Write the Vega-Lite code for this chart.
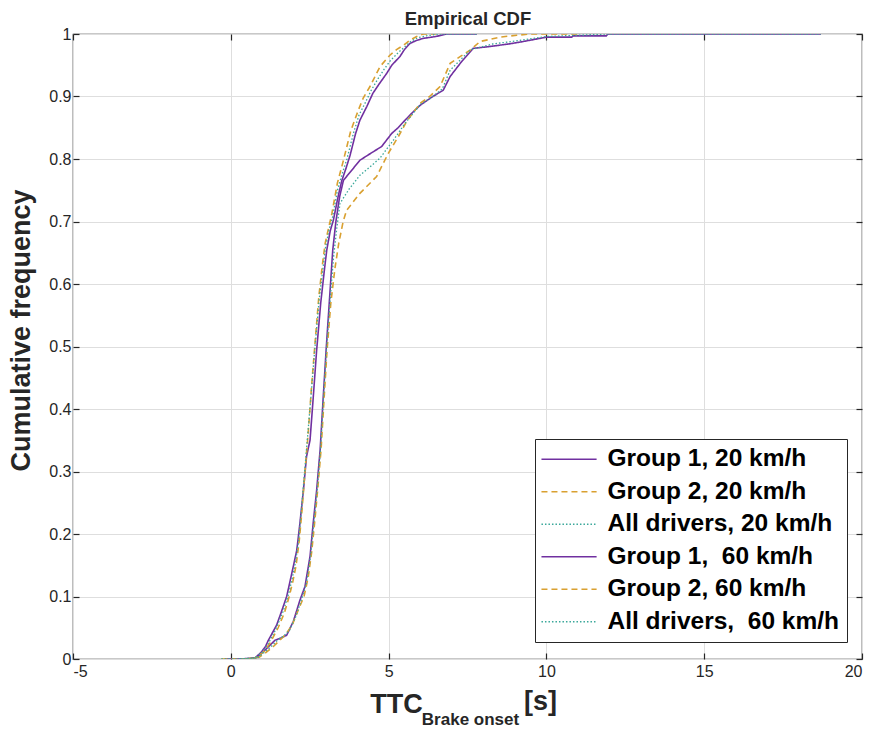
{
  "$schema": "https://vega.github.io/schema/vega-lite/v6.json",
  "autosize": {"type": "none"},
  "padding": {"left": 73, "top": 34, "right": 15, "bottom": 74},
  "width": 789,
  "height": 625,
  "background": "white",
  "config": {
    "view": {"stroke": "#262626", "strokeWidth": 1.2},
    "font": "Liberation Sans"
  },
  "datasets": {
    "cdf": [
      {"s": "Group 1, 20 km/h", "x": -0.2, "y": 0}, {"s": "Group 1, 20 km/h", "x": 0.6, "y": 0}, {"s": "Group 1, 20 km/h", "x": 0.77, "y": 0.002}, {"s": "Group 1, 20 km/h", "x": 0.95, "y": 0.01}, {"s": "Group 1, 20 km/h", "x": 1.1, "y": 0.02}, {"s": "Group 1, 20 km/h", "x": 1.19, "y": 0.03}, {"s": "Group 1, 20 km/h", "x": 1.32, "y": 0.042}, {"s": "Group 1, 20 km/h", "x": 1.45, "y": 0.054}, {"s": "Group 1, 20 km/h", "x": 1.6, "y": 0.075}, {"s": "Group 1, 20 km/h", "x": 1.77, "y": 0.1}, {"s": "Group 1, 20 km/h", "x": 1.88, "y": 0.125}, {"s": "Group 1, 20 km/h", "x": 1.98, "y": 0.148}, {"s": "Group 1, 20 km/h", "x": 2.09, "y": 0.174}, {"s": "Group 1, 20 km/h", "x": 2.19, "y": 0.217}, {"s": "Group 1, 20 km/h", "x": 2.3, "y": 0.27}, {"s": "Group 1, 20 km/h", "x": 2.4, "y": 0.324}, {"s": "Group 1, 20 km/h", "x": 2.51, "y": 0.35}, {"s": "Group 1, 20 km/h", "x": 2.6, "y": 0.41}, {"s": "Group 1, 20 km/h", "x": 2.72, "y": 0.494}, {"s": "Group 1, 20 km/h", "x": 2.85, "y": 0.57}, {"s": "Group 1, 20 km/h", "x": 2.96, "y": 0.62}, {"s": "Group 1, 20 km/h", "x": 3.04, "y": 0.654}, {"s": "Group 1, 20 km/h", "x": 3.15, "y": 0.685}, {"s": "Group 1, 20 km/h", "x": 3.25, "y": 0.702}, {"s": "Group 1, 20 km/h", "x": 3.4, "y": 0.74}, {"s": "Group 1, 20 km/h", "x": 3.52, "y": 0.766}, {"s": "Group 1, 20 km/h", "x": 3.65, "y": 0.785}, {"s": "Group 1, 20 km/h", "x": 3.78, "y": 0.806}, {"s": "Group 1, 20 km/h", "x": 3.95, "y": 0.84}, {"s": "Group 1, 20 km/h", "x": 4.09, "y": 0.862}, {"s": "Group 1, 20 km/h", "x": 4.31, "y": 0.884}, {"s": "Group 1, 20 km/h", "x": 4.5, "y": 0.905}, {"s": "Group 1, 20 km/h", "x": 4.7, "y": 0.92}, {"s": "Group 1, 20 km/h", "x": 4.94, "y": 0.937}, {"s": "Group 1, 20 km/h", "x": 5.1, "y": 0.95}, {"s": "Group 1, 20 km/h", "x": 5.36, "y": 0.964}, {"s": "Group 1, 20 km/h", "x": 5.5, "y": 0.975}, {"s": "Group 1, 20 km/h", "x": 5.68, "y": 0.985}, {"s": "Group 1, 20 km/h", "x": 5.9, "y": 0.99}, {"s": "Group 1, 20 km/h", "x": 6.1, "y": 0.993}, {"s": "Group 1, 20 km/h", "x": 6.5, "y": 0.996}, {"s": "Group 1, 20 km/h", "x": 6.84, "y": 1.0}, {"s": "Group 1, 20 km/h", "x": 7.8, "y": 1.0},

      {"s": "Group 2, 20 km/h", "x": -0.3, "y": 0}, {"s": "Group 2, 20 km/h", "x": 0.7, "y": 0}, {"s": "Group 2, 20 km/h", "x": 0.85, "y": 0.004}, {"s": "Group 2, 20 km/h", "x": 1.05, "y": 0.012}, {"s": "Group 2, 20 km/h", "x": 1.25, "y": 0.026}, {"s": "Group 2, 20 km/h", "x": 1.5, "y": 0.05}, {"s": "Group 2, 20 km/h", "x": 1.7, "y": 0.074}, {"s": "Group 2, 20 km/h", "x": 1.85, "y": 0.1}, {"s": "Group 2, 20 km/h", "x": 1.97, "y": 0.125}, {"s": "Group 2, 20 km/h", "x": 2.07, "y": 0.15}, {"s": "Group 2, 20 km/h", "x": 2.17, "y": 0.19}, {"s": "Group 2, 20 km/h", "x": 2.26, "y": 0.24}, {"s": "Group 2, 20 km/h", "x": 2.35, "y": 0.3}, {"s": "Group 2, 20 km/h", "x": 2.45, "y": 0.36}, {"s": "Group 2, 20 km/h", "x": 2.55, "y": 0.43}, {"s": "Group 2, 20 km/h", "x": 2.66, "y": 0.5}, {"s": "Group 2, 20 km/h", "x": 2.79, "y": 0.58}, {"s": "Group 2, 20 km/h", "x": 2.9, "y": 0.63}, {"s": "Group 2, 20 km/h", "x": 2.99, "y": 0.665}, {"s": "Group 2, 20 km/h", "x": 3.1, "y": 0.69}, {"s": "Group 2, 20 km/h", "x": 3.2, "y": 0.712}, {"s": "Group 2, 20 km/h", "x": 3.38, "y": 0.762}, {"s": "Group 2, 20 km/h", "x": 3.57, "y": 0.798}, {"s": "Group 2, 20 km/h", "x": 3.8, "y": 0.845}, {"s": "Group 2, 20 km/h", "x": 4.04, "y": 0.878}, {"s": "Group 2, 20 km/h", "x": 4.2, "y": 0.898}, {"s": "Group 2, 20 km/h", "x": 4.41, "y": 0.916}, {"s": "Group 2, 20 km/h", "x": 4.6, "y": 0.935}, {"s": "Group 2, 20 km/h", "x": 4.73, "y": 0.948}, {"s": "Group 2, 20 km/h", "x": 5.04, "y": 0.966}, {"s": "Group 2, 20 km/h", "x": 5.25, "y": 0.975}, {"s": "Group 2, 20 km/h", "x": 5.47, "y": 0.982}, {"s": "Group 2, 20 km/h", "x": 5.68, "y": 0.99}, {"s": "Group 2, 20 km/h", "x": 5.89, "y": 0.996}, {"s": "Group 2, 20 km/h", "x": 6.1, "y": 1.0}, {"s": "Group 2, 20 km/h", "x": 6.5, "y": 1.0},

      {"s": "All drivers, 20 km/h", "x": -0.3, "y": 0}, {"s": "All drivers, 20 km/h", "x": 0.65, "y": 0}, {"s": "All drivers, 20 km/h", "x": 0.8, "y": 0.003}, {"s": "All drivers, 20 km/h", "x": 1.0, "y": 0.011}, {"s": "All drivers, 20 km/h", "x": 1.18, "y": 0.024}, {"s": "All drivers, 20 km/h", "x": 1.4, "y": 0.045}, {"s": "All drivers, 20 km/h", "x": 1.65, "y": 0.075}, {"s": "All drivers, 20 km/h", "x": 1.81, "y": 0.1}, {"s": "All drivers, 20 km/h", "x": 1.93, "y": 0.125}, {"s": "All drivers, 20 km/h", "x": 2.03, "y": 0.15}, {"s": "All drivers, 20 km/h", "x": 2.14, "y": 0.185}, {"s": "All drivers, 20 km/h", "x": 2.24, "y": 0.24}, {"s": "All drivers, 20 km/h", "x": 2.34, "y": 0.3}, {"s": "All drivers, 20 km/h", "x": 2.44, "y": 0.36}, {"s": "All drivers, 20 km/h", "x": 2.54, "y": 0.42}, {"s": "All drivers, 20 km/h", "x": 2.66, "y": 0.495}, {"s": "All drivers, 20 km/h", "x": 2.8, "y": 0.575}, {"s": "All drivers, 20 km/h", "x": 2.92, "y": 0.625}, {"s": "All drivers, 20 km/h", "x": 3.0, "y": 0.658}, {"s": "All drivers, 20 km/h", "x": 3.12, "y": 0.688}, {"s": "All drivers, 20 km/h", "x": 3.22, "y": 0.706}, {"s": "All drivers, 20 km/h", "x": 3.38, "y": 0.75}, {"s": "All drivers, 20 km/h", "x": 3.52, "y": 0.775}, {"s": "All drivers, 20 km/h", "x": 3.68, "y": 0.8}, {"s": "All drivers, 20 km/h", "x": 3.88, "y": 0.84}, {"s": "All drivers, 20 km/h", "x": 4.06, "y": 0.87}, {"s": "All drivers, 20 km/h", "x": 4.26, "y": 0.89}, {"s": "All drivers, 20 km/h", "x": 4.45, "y": 0.91}, {"s": "All drivers, 20 km/h", "x": 4.66, "y": 0.928}, {"s": "All drivers, 20 km/h", "x": 4.85, "y": 0.943}, {"s": "All drivers, 20 km/h", "x": 5.05, "y": 0.957}, {"s": "All drivers, 20 km/h", "x": 5.3, "y": 0.97}, {"s": "All drivers, 20 km/h", "x": 5.5, "y": 0.979}, {"s": "All drivers, 20 km/h", "x": 5.7, "y": 0.988}, {"s": "All drivers, 20 km/h", "x": 5.92, "y": 0.994}, {"s": "All drivers, 20 km/h", "x": 6.2, "y": 0.997}, {"s": "All drivers, 20 km/h", "x": 6.6, "y": 1.0}, {"s": "All drivers, 20 km/h", "x": 7.8, "y": 1.0},

      {"s": "Group 1,\u00a0 60 km/h", "x": 0.3, "y": 0}, {"s": "Group 1,\u00a0 60 km/h", "x": 0.8, "y": 0.002}, {"s": "Group 1,\u00a0 60 km/h", "x": 1.0, "y": 0.01}, {"s": "Group 1,\u00a0 60 km/h", "x": 1.2, "y": 0.02}, {"s": "Group 1,\u00a0 60 km/h", "x": 1.4, "y": 0.03}, {"s": "Group 1,\u00a0 60 km/h", "x": 1.6, "y": 0.034}, {"s": "Group 1,\u00a0 60 km/h", "x": 1.77, "y": 0.038}, {"s": "Group 1,\u00a0 60 km/h", "x": 1.98, "y": 0.06}, {"s": "Group 1,\u00a0 60 km/h", "x": 2.19, "y": 0.094}, {"s": "Group 1,\u00a0 60 km/h", "x": 2.35, "y": 0.116}, {"s": "Group 1,\u00a0 60 km/h", "x": 2.51, "y": 0.164}, {"s": "Group 1,\u00a0 60 km/h", "x": 2.61, "y": 0.217}, {"s": "Group 1,\u00a0 60 km/h", "x": 2.72, "y": 0.27}, {"s": "Group 1,\u00a0 60 km/h", "x": 2.83, "y": 0.334}, {"s": "Group 1,\u00a0 60 km/h", "x": 2.93, "y": 0.42}, {"s": "Group 1,\u00a0 60 km/h", "x": 3.02, "y": 0.494}, {"s": "Group 1,\u00a0 60 km/h", "x": 3.12, "y": 0.57}, {"s": "Group 1,\u00a0 60 km/h", "x": 3.23, "y": 0.654}, {"s": "Group 1,\u00a0 60 km/h", "x": 3.33, "y": 0.7}, {"s": "Group 1,\u00a0 60 km/h", "x": 3.45, "y": 0.74}, {"s": "Group 1,\u00a0 60 km/h", "x": 3.57, "y": 0.766}, {"s": "Group 1,\u00a0 60 km/h", "x": 3.8, "y": 0.78}, {"s": "Group 1,\u00a0 60 km/h", "x": 4.09, "y": 0.798}, {"s": "Group 1,\u00a0 60 km/h", "x": 4.4, "y": 0.808}, {"s": "Group 1,\u00a0 60 km/h", "x": 4.78, "y": 0.82}, {"s": "Group 1,\u00a0 60 km/h", "x": 5.1, "y": 0.841}, {"s": "Group 1,\u00a0 60 km/h", "x": 5.3, "y": 0.85}, {"s": "Group 1,\u00a0 60 km/h", "x": 5.52, "y": 0.862}, {"s": "Group 1,\u00a0 60 km/h", "x": 5.75, "y": 0.874}, {"s": "Group 1,\u00a0 60 km/h", "x": 6.0, "y": 0.886}, {"s": "Group 1,\u00a0 60 km/h", "x": 6.4, "y": 0.9}, {"s": "Group 1,\u00a0 60 km/h", "x": 6.73, "y": 0.91}, {"s": "Group 1,\u00a0 60 km/h", "x": 6.95, "y": 0.932}, {"s": "Group 1,\u00a0 60 km/h", "x": 7.3, "y": 0.955}, {"s": "Group 1,\u00a0 60 km/h", "x": 7.68, "y": 0.977}, {"s": "Group 1,\u00a0 60 km/h", "x": 8.21, "y": 0.98}, {"s": "Group 1,\u00a0 60 km/h", "x": 8.8, "y": 0.984}, {"s": "Group 1,\u00a0 60 km/h", "x": 9.27, "y": 0.988}, {"s": "Group 1,\u00a0 60 km/h", "x": 10.0, "y": 0.995}, {"s": "Group 1,\u00a0 60 km/h", "x": 10.8, "y": 0.995}, {"s": "Group 1,\u00a0 60 km/h", "x": 10.85, "y": 0.997}, {"s": "Group 1,\u00a0 60 km/h", "x": 11.9, "y": 0.997}, {"s": "Group 1,\u00a0 60 km/h", "x": 11.95, "y": 1.0}, {"s": "Group 1,\u00a0 60 km/h", "x": 18.7, "y": 1.0},

      {"s": "Group 2, 60 km/h", "x": 0.5, "y": 0}, {"s": "Group 2, 60 km/h", "x": 0.9, "y": 0.003}, {"s": "Group 2, 60 km/h", "x": 1.1, "y": 0.01}, {"s": "Group 2, 60 km/h", "x": 1.35, "y": 0.02}, {"s": "Group 2, 60 km/h", "x": 1.55, "y": 0.03}, {"s": "Group 2, 60 km/h", "x": 1.75, "y": 0.04}, {"s": "Group 2, 60 km/h", "x": 1.95, "y": 0.055}, {"s": "Group 2, 60 km/h", "x": 2.15, "y": 0.08}, {"s": "Group 2, 60 km/h", "x": 2.32, "y": 0.1}, {"s": "Group 2, 60 km/h", "x": 2.45, "y": 0.13}, {"s": "Group 2, 60 km/h", "x": 2.56, "y": 0.17}, {"s": "Group 2, 60 km/h", "x": 2.66, "y": 0.22}, {"s": "Group 2, 60 km/h", "x": 2.76, "y": 0.275}, {"s": "Group 2, 60 km/h", "x": 2.86, "y": 0.335}, {"s": "Group 2, 60 km/h", "x": 2.96, "y": 0.42}, {"s": "Group 2, 60 km/h", "x": 3.05, "y": 0.494}, {"s": "Group 2, 60 km/h", "x": 3.17, "y": 0.57}, {"s": "Group 2, 60 km/h", "x": 3.3, "y": 0.625}, {"s": "Group 2, 60 km/h", "x": 3.42, "y": 0.665}, {"s": "Group 2, 60 km/h", "x": 3.56, "y": 0.7}, {"s": "Group 2, 60 km/h", "x": 3.67, "y": 0.718}, {"s": "Group 2, 60 km/h", "x": 4.09, "y": 0.745}, {"s": "Group 2, 60 km/h", "x": 4.62, "y": 0.772}, {"s": "Group 2, 60 km/h", "x": 4.99, "y": 0.809}, {"s": "Group 2, 60 km/h", "x": 5.31, "y": 0.836}, {"s": "Group 2, 60 km/h", "x": 5.57, "y": 0.86}, {"s": "Group 2, 60 km/h", "x": 6.0, "y": 0.889}, {"s": "Group 2, 60 km/h", "x": 6.3, "y": 0.9}, {"s": "Group 2, 60 km/h", "x": 6.63, "y": 0.916}, {"s": "Group 2, 60 km/h", "x": 6.95, "y": 0.953}, {"s": "Group 2, 60 km/h", "x": 7.3, "y": 0.965}, {"s": "Group 2, 60 km/h", "x": 7.58, "y": 0.974}, {"s": "Group 2, 60 km/h", "x": 7.9, "y": 0.988}, {"s": "Group 2, 60 km/h", "x": 8.53, "y": 0.995}, {"s": "Group 2, 60 km/h", "x": 9.06, "y": 0.998}, {"s": "Group 2, 60 km/h", "x": 9.5, "y": 1.0}, {"s": "Group 2, 60 km/h", "x": 11.0, "y": 1.0},

      {"s": "All drivers,\u00a0 60 km/h", "x": 0.3, "y": 0}, {"s": "All drivers,\u00a0 60 km/h", "x": 0.85, "y": 0.002}, {"s": "All drivers,\u00a0 60 km/h", "x": 1.05, "y": 0.01}, {"s": "All drivers,\u00a0 60 km/h", "x": 1.28, "y": 0.02}, {"s": "All drivers,\u00a0 60 km/h", "x": 1.48, "y": 0.03}, {"s": "All drivers,\u00a0 60 km/h", "x": 1.68, "y": 0.037}, {"s": "All drivers,\u00a0 60 km/h", "x": 1.86, "y": 0.046}, {"s": "All drivers,\u00a0 60 km/h", "x": 2.06, "y": 0.068}, {"s": "All drivers,\u00a0 60 km/h", "x": 2.25, "y": 0.097}, {"s": "All drivers,\u00a0 60 km/h", "x": 2.4, "y": 0.122}, {"s": "All drivers,\u00a0 60 km/h", "x": 2.53, "y": 0.166}, {"s": "All drivers,\u00a0 60 km/h", "x": 2.63, "y": 0.218}, {"s": "All drivers,\u00a0 60 km/h", "x": 2.74, "y": 0.272}, {"s": "All drivers,\u00a0 60 km/h", "x": 2.84, "y": 0.334}, {"s": "All drivers,\u00a0 60 km/h", "x": 2.94, "y": 0.42}, {"s": "All drivers,\u00a0 60 km/h", "x": 3.03, "y": 0.494}, {"s": "All drivers,\u00a0 60 km/h", "x": 3.14, "y": 0.57}, {"s": "All drivers,\u00a0 60 km/h", "x": 3.26, "y": 0.645}, {"s": "All drivers,\u00a0 60 km/h", "x": 3.36, "y": 0.69}, {"s": "All drivers,\u00a0 60 km/h", "x": 3.46, "y": 0.729}, {"s": "All drivers,\u00a0 60 km/h", "x": 3.75, "y": 0.752}, {"s": "All drivers,\u00a0 60 km/h", "x": 4.09, "y": 0.774}, {"s": "All drivers,\u00a0 60 km/h", "x": 4.4, "y": 0.787}, {"s": "All drivers,\u00a0 60 km/h", "x": 4.72, "y": 0.801}, {"s": "All drivers,\u00a0 60 km/h", "x": 5.15, "y": 0.83}, {"s": "All drivers,\u00a0 60 km/h", "x": 5.52, "y": 0.857}, {"s": "All drivers,\u00a0 60 km/h", "x": 6.0, "y": 0.887}, {"s": "All drivers,\u00a0 60 km/h", "x": 6.4, "y": 0.9}, {"s": "All drivers,\u00a0 60 km/h", "x": 6.7, "y": 0.912}, {"s": "All drivers,\u00a0 60 km/h", "x": 6.95, "y": 0.942}, {"s": "All drivers,\u00a0 60 km/h", "x": 7.3, "y": 0.96}, {"s": "All drivers,\u00a0 60 km/h", "x": 7.6, "y": 0.975}, {"s": "All drivers,\u00a0 60 km/h", "x": 8.3, "y": 0.984}, {"s": "All drivers,\u00a0 60 km/h", "x": 9.2, "y": 0.99}, {"s": "All drivers,\u00a0 60 km/h", "x": 10.0, "y": 0.996}, {"s": "All drivers,\u00a0 60 km/h", "x": 11.0, "y": 0.998}, {"s": "All drivers,\u00a0 60 km/h", "x": 11.95, "y": 1.0}, {"s": "All drivers,\u00a0 60 km/h", "x": 18.7, "y": 1.0}
    ]
  },
  "data": {"name": "cdf"},
  "resolve": {
    "scale": {"x": "shared", "y": "shared", "color": "shared", "strokeDash": "shared"},
    "axis": {"x": "independent", "y": "independent"}
  },
  "layer": [
    {
      "transform": [{"filter": {"field": "s", "oneOf": ["Group 1, 20 km/h", "Group 1,\u00a0 60 km/h"]}}],
      "mark": {"type": "line", "strokeWidth": 1.6, "clip": true},
      "encoding": {
        "x": {
          "field": "x", "type": "quantitative",
          "scale": {"domain": [-5, 20], "nice": false, "zero": false},
          "axis": {
            "orient": "bottom", "values": [-5, 0, 5, 10, 15, 20], "grid": true,
            "gridColor": "#dedede", "gridWidth": 1, "domain": false,
            "tickSize": -6, "tickColor": "#262626", "tickWidth": 1.2,
            "labelExpr": "datum.value < 0 ? '-' + abs(datum.value) : datum.label",
            "labelFont": "Liberation Sans", "labelFontSize": 16, "labelColor": "#262626", "labelPadding": 10,
            "title": "TTC", "titleFont": "Liberation Sans", "titleFontSize": 27, "titleFontWeight": "bold",
            "titleColor": "#262626", "titleX": 323, "titleY": 53, "titleBaseline": "alphabetic"
          }
        },
        "y": {
          "field": "y", "type": "quantitative",
          "scale": {"domain": [0, 1], "nice": false},
          "axis": {
            "orient": "left", "values": [0, 0.1, 0.2, 0.3, 0.4, 0.5, 0.6, 0.7, 0.8, 0.9, 1], "format": "~g",
            "grid": true, "gridColor": "#dedede", "gridWidth": 1, "domain": false,
            "tickSize": -6, "tickColor": "#262626", "tickWidth": 1.2,
            "labelFont": "Liberation Sans", "labelFontSize": 16, "labelColor": "#262626", "labelPadding": 8,
            "title": "Cumulative frequency", "titleFont": "Liberation Sans", "titleFontSize": 27,
            "titleFontWeight": "bold", "titleColor": "#262626", "titleX": -38, "titleY": 296
          }
        },
        "color": {
          "field": "s", "type": "nominal",
          "scale": {
            "domain": ["Group 1, 20 km/h", "Group 2, 20 km/h", "All drivers, 20 km/h", "Group 1,\u00a0 60 km/h", "Group 2, 60 km/h", "All drivers,\u00a0 60 km/h"],
            "range": ["#7030a0", "#d9a030", "#3aa89a", "#7030a0", "#d9a030", "#3aa89a"]
          },
          "legend": {
            "orient": "none", "legendX": 462, "legendY": 405, "title": null,
            "fillColor": "white", "strokeColor": "#262626", "padding": 8, "rowPadding": 7.5,
            "symbolType": "M-2,0H6", "symbolSize": 190, "symbolStrokeWidth": 1.6,
            "labelOffset": 40, "labelFont": "Liberation Sans", "labelFontSize": 24.5,
            "labelFontWeight": "bold", "labelColor": "black", "labelLimit": 400
          }
        },
        "strokeDash": {
          "field": "s", "type": "nominal",
          "scale": {
            "domain": ["Group 1, 20 km/h", "Group 2, 20 km/h", "All drivers, 20 km/h", "Group 1,\u00a0 60 km/h", "Group 2, 60 km/h", "All drivers,\u00a0 60 km/h"],
            "range": [[1, 0], [6, 4], [1.5, 2], [1, 0], [6, 4], [1.5, 2]]
          }
        }
      }
    },
    {
      "transform": [{"filter": {"field": "s", "oneOf": ["Group 2, 20 km/h", "Group 2, 60 km/h"]}}],
      "mark": {"type": "line", "strokeWidth": 1.6, "clip": true},
      "encoding": {
        "x": {
          "field": "x", "type": "quantitative",
          "axis": {
            "orient": "top", "values": [-5, 0, 5, 10, 15, 20], "grid": false, "domain": false, "labels": false,
            "tickSize": -6, "tickColor": "#262626", "tickWidth": 1.2,
            "title": "Empirical CDF", "titleFont": "Liberation Sans", "titleFontSize": 18.5, "titleFontWeight": "bold",
            "titleColor": "#262626", "titleY": -10, "titleBaseline": "alphabetic"
          }
        },
        "y": {
          "field": "y", "type": "quantitative",
          "axis": {
            "orient": "right", "values": [0, 0.1, 0.2, 0.3, 0.4, 0.5, 0.6, 0.7, 0.8, 0.9, 1],
            "grid": false, "domain": false, "labels": false,
            "tickSize": -6, "tickColor": "#262626", "tickWidth": 1.2,
            "title": "[s]", "titleAngle": 0, "titleFont": "Liberation Sans", "titleFontSize": 27,
            "titleFontWeight": "bold", "titleColor": "#262626", "titleX": -322, "titleY": 675,
            "titleBaseline": "alphabetic", "titleAlign": "center"
          }
        },
        "color": {"field": "s", "type": "nominal"},
        "strokeDash": {"field": "s", "type": "nominal"}
      }
    },
    {
      "transform": [{"filter": {"field": "s", "oneOf": ["All drivers, 20 km/h", "All drivers,\u00a0 60 km/h"]}}],
      "mark": {"type": "line", "strokeWidth": 1.3, "clip": true},
      "encoding": {
        "x": {
          "field": "x", "type": "quantitative",
          "axis": {
            "orient": "bottom", "grid": false, "domain": false, "labels": false, "ticks": false,
            "title": "Brake onset", "titleFont": "Liberation Sans", "titleFontSize": 17, "titleFontWeight": "bold",
            "titleColor": "#262626", "titleX": 397, "titleY": 65, "titleBaseline": "alphabetic"
          }
        },
        "y": {"field": "y", "type": "quantitative", "axis": null},
        "color": {"field": "s", "type": "nominal"},
        "strokeDash": {"field": "s", "type": "nominal"}
      }
    }
  ]
}
